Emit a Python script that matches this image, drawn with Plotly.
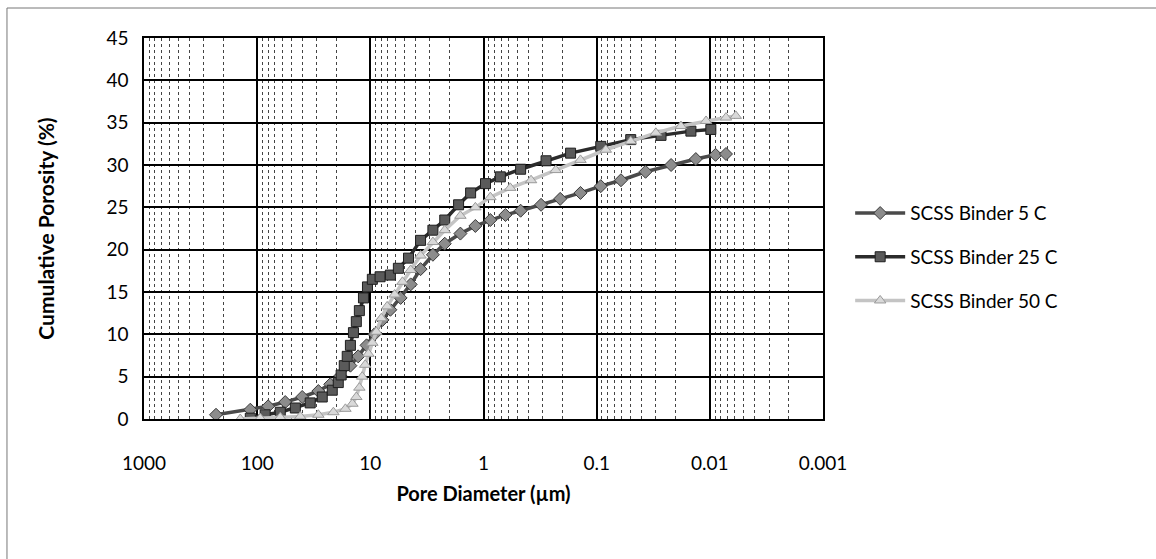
import plotly.graph_objects as go

# Pore diameter (µm) and cumulative porosity (%)
d_5c = [231, 115, 80, 56.5, 40, 28.8, 22.6, 18.4, 15.0, 12.8, 10.8, 9.2, 7.8, 6.65,
        5.4, 4.4, 3.6, 2.8, 2.2, 1.6, 1.18, 0.87, 0.64, 0.47, 0.31, 0.21, 0.139,
        0.092, 0.061, 0.037, 0.022, 0.0133, 0.0089, 0.0072]
p_5c = [0.5, 1.1, 1.5, 2.0, 2.6, 3.3, 4.1, 5.1, 6.3, 7.4, 8.7, 10.0, 11.7, 12.9,
        14.3, 15.9, 17.7, 19.4, 20.7, 21.9, 22.8, 23.5, 24.1, 24.6, 25.3, 26.0, 26.7,
        27.5, 28.2, 29.2, 30.0, 30.7, 31.2, 31.3]

d_25c = [115, 85, 62.5, 46, 34, 26.6, 21.7, 19.2, 18.1, 17.0, 16.0, 15.0, 14.1,
         13.3, 12.5, 11.5, 10.6, 9.6, 8.2, 6.65, 5.65, 4.6, 3.6, 2.8, 2.2, 1.66,
         1.30, 0.96, 0.71, 0.47, 0.28, 0.17, 0.092, 0.050, 0.027, 0.0147, 0.0098]
p_25c = [0.1, 0.5, 0.8, 1.3, 1.9, 2.6, 3.4, 4.3, 5.2, 6.3, 7.4, 8.7, 10.2,
         11.5, 12.8, 14.3, 15.6, 16.5, 16.8, 17.0, 17.8, 19.0, 21.1, 22.3, 23.5, 25.3,
         26.7, 27.8, 28.6, 29.5, 30.5, 31.4, 32.2, 33.0, 33.5, 34.0, 34.2]

d_50c = [141, 94, 62.5, 41.6, 28.8, 21.2, 16.6, 14.4, 13.3, 12.5, 11.8, 11.1, 10.4,
         9.6, 8.85, 8.0, 7.1, 6.1, 5.2, 4.4, 3.6, 2.8, 2.2, 1.6, 1.18, 0.87, 0.58,
         0.38, 0.23, 0.139, 0.083, 0.050, 0.030, 0.018, 0.0108, 0.0072, 0.0059]
p_50c = [0.0, 0.1, 0.2, 0.3, 0.5, 0.8, 1.2, 1.8, 2.6, 3.7, 5.0, 6.4, 7.7,
         9.0, 10.3, 11.9, 13.3, 14.7, 16.2, 17.6, 19.3, 20.9, 22.3, 24.0, 25.0, 26.2, 27.3,
         28.2, 29.4, 30.6, 31.8, 32.8, 33.8, 34.6, 35.2, 35.6, 35.8]

x_tickvals = [1000, 100, 10, 1, 0.1, 0.01, 0.001]
x_ticktext = ["1000", "100", "10", "1", "0.1", "0.01", "0.001"]
y_tickvals = [0, 5, 10, 15, 20, 25, 30, 35, 40, 45]

series = [
    ("SCSS Binder 5 C", d_5c, p_5c, "#4a4a4a", "diamond", "#8c8c8c", "#3a3a3a"),
    ("SCSS Binder 25 C", d_25c, p_25c, "#2b2b2b", "square", "#5a5a5a", "#1e1e1e"),
    ("SCSS Binder 50 C", d_50c, p_50c, "#c4c4c4", "triangle-up", "#d9d9d9", "#9a9a9a"),
]

fig = go.Figure()
for i, (name, d, p, lc, sym, mfill, mline) in enumerate(series):
    fig.add_trace(go.Scatter(
        x=d, y=p, name=name, mode="lines+markers", legendgroup=str(i),
        line=dict(color=lc, width=3.5),
        marker=dict(symbol=sym, size=10, color=mfill, line=dict(color=mline, width=1)),
    ))

font_family = "Lato, 'Open Sans', sans-serif"

fig.update_layout(
    width=1156, height=559,
    margin=dict(l=144, r=333, t=38, b=140),
    paper_bgcolor="white", plot_bgcolor="white",
    font=dict(family=font_family, size=19, color="black"),
    showlegend=True,
    legend=dict(x=1.04, xanchor="left", y=0.59, yanchor="top",
                font=dict(size=19, color="black"), tracegroupgap=16,
                bgcolor="rgba(0,0,0,0)", itemwidth=50),
    xaxis=dict(
        type="log", range=[3, -3],
        tickvals=x_tickvals, ticktext=x_ticktext,
        showgrid=True, gridcolor="black", gridwidth=1.5,
        minor=dict(dtick="D1", showgrid=True, gridcolor="#444444", griddash="dot", gridwidth=1),
        showline=True, linecolor="black", linewidth=1.5, mirror=True,
        ticks="", tickfont=dict(size=19), zeroline=False, ticklabelstandoff=26,
        title=dict(text="<b>Pore Diameter (µm)</b>", font=dict(size=20), standoff=14),
    ),
    yaxis=dict(
        range=[0, 45], tickvals=y_tickvals,
        showgrid=True, gridcolor="black", gridwidth=1.5,
        showline=True, linecolor="black", linewidth=1.5, mirror=True,
        ticks="", tickfont=dict(size=19), zeroline=False, ticklabelstandoff=10,
        title=dict(text="<b>Cumulative Porosity (%)</b>", font=dict(size=21), standoff=46),
    ),
)

# outer chart frame
fig.add_shape(type="rect", xref="paper", yref="paper",
              x0=-0.2018, x1=1.5, y0=-0.45, y1=1.0787,
              line=dict(color="#777777", width=1), layer="below")

fig.write_html("out.html")
